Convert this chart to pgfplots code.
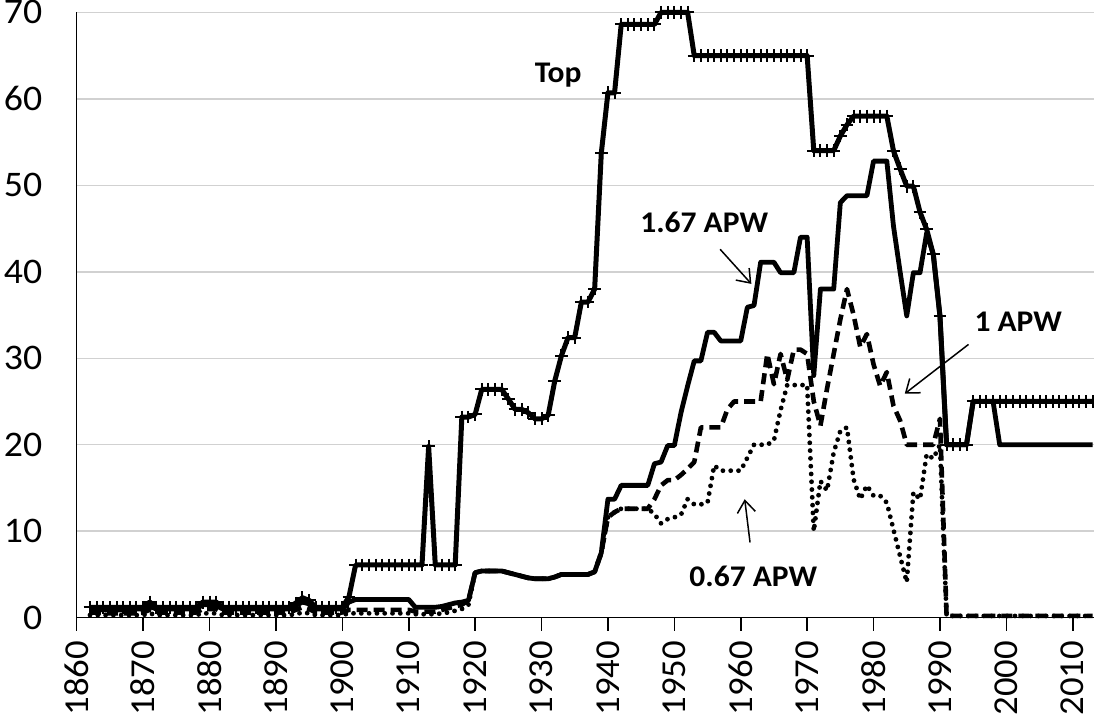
\documentclass[border=0pt]{standalone}
\usepackage{fontspec}
\setmainfont{Carlito}[FakeStretch=1.05]
\usepackage{pgfplots}
\pgfplotsset{compat=1.18}
\usepackage{pgfplotstable}
\usetikzlibrary{arrows.meta,calc}

\pgfplotstableread{
year top a167 a1 a067
1862 1.2 1.0 0.6 0.3
1863 1.2 1.0 0.6 0.3
1864 1.2 0.9 0.5 0.3
1865 1.2 0.9 0.5 0.3
1866 1.2 0.9 0.5 0.3
1867 1.2 0.9 0.5 0.3
1868 1.2 0.9 0.5 0.3
1869 1.2 1.0 0.5 0.3
1870 1.2 1.0 0.6 0.3
1871 1.8 1.3 0.9 0.5
1872 1.2 1.0 0.6 0.3
1873 1.2 1.0 0.6 0.3
1874 1.2 1.0 0.6 0.3
1875 1.2 1.0 0.6 0.3
1876 1.2 1.0 0.6 0.3
1877 1.2 1.0 0.6 0.3
1878 1.2 1.0 0.6 0.3
1879 1.8 1.5 1.0 0.5
1880 1.8 1.5 1.0 0.5
1881 1.8 1.4 1.0 0.5
1882 1.2 1.0 0.6 0.3
1883 1.2 1.0 0.6 0.3
1884 1.2 1.0 0.6 0.3
1885 1.2 1.0 0.6 0.3
1886 1.2 1.0 0.6 0.3
1887 1.2 1.0 0.6 0.3
1888 1.2 1.0 0.6 0.3
1889 1.2 1.0 0.6 0.3
1890 1.2 1.0 0.6 0.3
1891 1.2 1.0 0.6 0.3
1892 1.2 1.0 0.6 0.3
1893 1.7 1.4 0.9 0.4
1894 2.3 1.8 1.2 0.6
1895 2.0 1.6 1.0 0.5
1896 1.2 1.0 0.6 0.3
1897 1.2 1.0 0.6 0.3
1898 1.2 1.0 0.6 0.3
1899 1.2 1.0 0.6 0.3
1900 1.2 1.0 0.6 0.3
1901 2.4 1.8 0.9 0.5
1902 6.1 2.1 0.9 0.5
1903 6.1 2.1 0.9 0.5
1904 6.1 2.1 0.9 0.5
1905 6.1 2.1 0.9 0.5
1906 6.1 2.1 0.9 0.5
1907 6.1 2.1 0.9 0.5
1908 6.1 2.1 0.9 0.5
1909 6.1 2.1 0.9 0.5
1910 6.1 2.1 0.9 0.5
1911 6.1 1.2 0.7 0.4
1912 6.1 1.2 0.7 0.4
1913 19.8 1.2 0.7 0.4
1914 6.1 1.2 0.7 0.4
1915 6.1 1.3 0.9 0.5
1916 6.1 1.5 1.1 0.6
1917 6.1 1.7 1.3 0.8
1918 23.2 1.8 1.5 1.0
1919 23.2 2.0 2.0 1.5
1920 23.5 5.2 5.2 5.2
1921 26.4 5.4 5.4 5.4
1922 26.4 5.4 5.4 5.4
1923 26.4 5.4 5.4 5.4
1924 26.4 5.4 5.4 5.4
1925 25.3 5.2 5.2 5.2
1926 24.1 5.0 5.0 5.0
1927 24.1 4.8 4.8 4.8
1928 23.7 4.6 4.6 4.6
1929 23.0 4.5 4.5 4.5
1930 23.0 4.5 4.5 4.5
1931 23.4 4.5 4.5 4.5
1932 27.4 4.7 4.7 4.7
1933 30.3 5.0 5.0 5.0
1934 32.4 5.0 5.0 5.0
1935 32.4 5.0 5.0 5.0
1936 36.5 5.0 5.0 5.0
1937 36.5 5.0 5.0 5.0
1938 38.0 5.3 5.3 5.3
1939 53.7 7.5 7.5 7.5
1940 60.7 13.7 11.6 11.6
1941 60.7 13.7 12.2 12.2
1942 68.6 15.3 12.6 12.6
1943 68.6 15.3 12.6 12.6
1944 68.6 15.3 12.6 12.6
1945 68.6 15.3 12.6 12.6
1946 68.6 15.3 12.6 12.6
1947 68.6 17.8 13.7 12.0
1948 70.0 18.0 15.3 10.9
1949 70.0 19.9 15.9 11.4
1950 70.0 19.9 15.9 11.6
1951 70.0 23.7 16.5 11.9
1952 70.0 26.8 17.2 13.7
1953 65.0 29.7 18.0 13.1
1954 65.0 29.7 22.0 13.1
1955 65.0 33.0 22.0 13.3
1956 65.0 33.0 22.0 17.6
1957 65.0 32.0 22.0 17.0
1958 65.0 32.0 24.1 17.0
1959 65.0 32.0 25.0 17.0
1960 65.0 32.0 25.0 17.0
1961 65.0 35.9 25.0 18.5
1962 65.0 36.1 25.0 20.0
1963 65.0 41.1 25.0 20.0
1964 65.0 41.1 30.5 20.0
1965 65.0 41.1 27.0 20.5
1966 65.0 39.9 30.5 24.0
1967 65.0 39.9 27.5 26.9
1968 65.0 39.9 31.0 26.9
1969 65.0 44.0 31.0 26.9
1970 65.0 44.0 30.5 26.9
1971 54.0 28.0 25.0 10.0
1972 54.0 38.0 22.2 15.8
1973 54.0 38.0 26.5 14.7
1974 54.0 38.0 30.5 19.1
1975 55.7 48.0 34.5 21.6
1976 57.0 48.8 38.0 22.0
1977 58.0 48.8 35.0 16.0
1978 58.0 48.8 31.3 13.7
1979 58.0 48.8 32.8 15.3
1980 58.0 52.8 29.3 14.1
1981 58.0 52.8 26.8 14.1
1982 58.0 52.8 28.4 13.3
1983 54.0 45.3 24.5 10.2
1984 51.9 40.0 22.8 7.1
1985 49.9 34.9 20.0 4.1
1986 49.9 39.9 20.0 14.5
1987 46.9 39.9 20.0 13.7
1988 44.9 44.5 20.0 18.9
1989 42.0 42.0 20.0 18.4
1990 34.9 34.9 23.0 20.0
1991 20.0 20.0 0.2 0.2
1992 20.0 20.0 0.2 0.2
1993 20.0 20.0 0.2 0.2
1994 20.0 20.0 0.2 0.2
1995 25.0 25.0 0.2 0.2
1996 25.0 25.0 0.2 0.2
1997 25.0 25.0 0.2 0.2
1998 25.0 25.0 0.2 0.2
1999 25.0 20.0 0.2 0.2
2000 25.0 20.0 0.2 0.2
2001 25.0 20.0 0.2 0.2
2002 25.0 20.0 0.2 0.2
2003 25.0 20.0 0.2 0.2
2004 25.0 20.0 0.2 0.2
2005 25.0 20.0 0.2 0.2
2006 25.0 20.0 0.2 0.2
2007 25.0 20.0 0.2 0.2
2008 25.0 20.0 0.2 0.2
2009 25.0 20.0 0.2 0.2
2010 25.0 20.0 0.2 0.2
2011 25.0 20.0 0.2 0.2
2012 25.0 20.0 0.2 0.2
2013 25.0 20.0 0.2 0.2
}\data

\begin{document}
\begin{tikzpicture}
\begin{axis}[
  scale only axis,
  width=508.65pt, height=302.65pt,
  xmin=1860, xmax=2013.2, ymin=0, ymax=70,
  axis x line*=bottom, axis y line*=left,
  axis line style={line width=0.8pt, black},
  xtick={1860,1870,...,2010},
  ytick={0,10,...,70},
  ymajorgrids,
  major grid style={draw=black!18, line width=0.75pt},
  tick align=outside,
  major tick length=6.5pt,
  xtick style={line width=0.8pt, black},
  ytick style={draw=none},
  xticklabel style={rotate=90, anchor=east, font=\fontsize{17.5}{20}\selectfont, inner sep=1pt},
  yticklabel style={font=\fontsize{18}{20}\selectfont, inner sep=1pt},
  /pgf/number format/1000 sep={},
  /pgf/number format/assume math mode=true,
  xticklabel shift=4pt,
  yticklabel shift=9.5pt,
  clip=false,
  line join=round,
]
\coordinate (ll) at (rel axis cs:0,0);
\coordinate (ur) at (rel axis cs:1,1);
\addplot[black, line width=2.4pt, line cap=round, dash pattern=on 0pt off 3.9pt] table[x=year, y=a067] {\data};
\addplot[black, line width=2.3pt, dash pattern=on 5.5pt off 3pt] table[x=year, y=a1] {\data};
\addplot[black, line width=2.4pt] table[x=year, y=a167] {\data};
\addplot[black, line width=2.5pt, mark=+, mark size=3.2pt, mark options={line width=1pt, solid}] table[x=year, y=top] {\data};

\node[font=\bfseries\fontsize{15}{17}\selectfont] at (axis cs:1932.5,62.7) {Top};
\node[font=\bfseries\fontsize{15}{17}\selectfont] at (axis cs:1954.5,45.7) {1.67 APW};
\node[font=\bfseries\fontsize{15}{17}\selectfont] at (axis cs:2001.8,34.2) {1 APW};
\node[font=\bfseries\fontsize{15}{17}\selectfont] at (axis cs:1961.9,4.8) {0.67 APW};
\draw[line width=0.75pt, -{Straight Barb[length=6pt,width=9pt]}] (axis cs:1956.9,42.6) -- (axis cs:1961.6,38.6);
\draw[line width=0.75pt, -{Straight Barb[length=6pt,width=9pt]}] (axis cs:1994.3,31.6) -- (axis cs:1984.7,25.9);
\draw[line width=0.75pt, -{Straight Barb[length=6pt,width=9pt]}] (axis cs:1961.4,8.7) -- (axis cs:1960.6,13.7);
\end{axis}
\pgfresetboundingbox
\path[use as bounding box] ($(ll)+(-38.35pt,-48.65pt)$) rectangle ($(ur)+(0pt,6.2pt)$);
\end{tikzpicture}
\end{document}
